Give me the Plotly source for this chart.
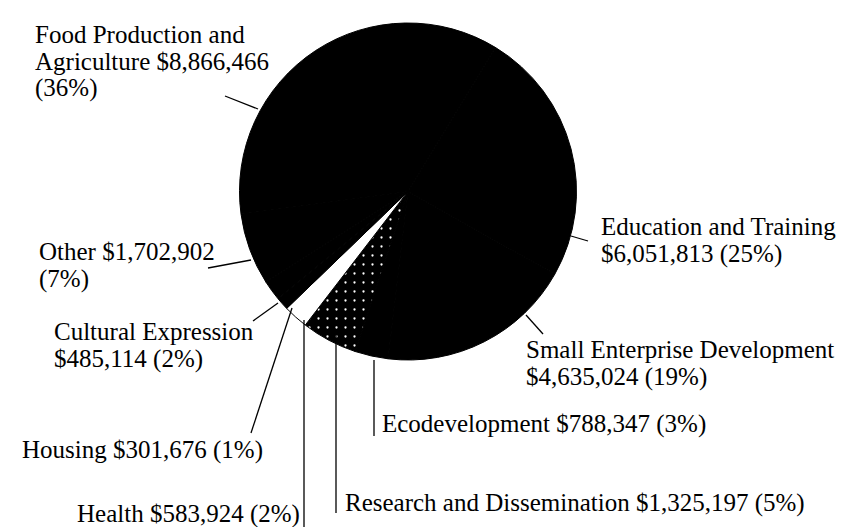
import textwrap
import plotly.graph_objects as go

# ---- data ----
categories = [
    "Education and Training",
    "Small Enterprise Development",
    "Ecodevelopment",
    "Research and Dissemination",
    "Health",
    "Housing",
    "Cultural Expression",
    "Other",
    "Food Production and Agriculture",
]
values = [6051813, 4635024, 788347, 1325197, 583924, 301676, 485114, 1702902, 8866466]
percents = [25, 19, 3, 5, 2, 1, 2, 7, 36]

# ---- styling ----
W, H = 845, 527
slice_colors = ["black", "black", "black", "black", "white", "black", "black", "black", "black"]
slice_patterns = ["", "", "", ".", "", "", "", "", ""]
FONT = "Liberation Serif, Times New Roman, serif"
FSIZE = 25
LINE_GAP = 27

# label layout: (wrap width in chars, left x px, first baseline px, leader line pts px)
label_layout = {
    "Education and Training": (22, 592, 227, [(563, 228), (580, 233)]),
    "Small Enterprise Development": (28, 517, 350, [(518, 307), (535, 326)]),
    "Ecodevelopment": (100, 373, 424, [(366, 352), (366, 428)]),
    "Research and Dissemination": (100, 336, 503, [(328, 326), (328, 505)]),
    "Health": (100, 68, 514, [(296, 312), (296, 527)]),
    "Housing": (100, 13, 450, [(284, 300), (243, 425)]),
    "Cultural Expression": (19, 45, 332, [(270, 295), (245, 313)]),
    "Other": (16, 30, 252, [(243, 252), (200, 260)]),
    "Food Production and Agriculture": (22, 26, 35, [(250, 101), (217, 88)]),
}

# pie placement (pixels)
CX, CY, R = 400, 183.5, 168.5


def px(x, y):
    return x / W, 1 - y / H


fig = go.Figure()
fig.add_trace(
    go.Pie(
        labels=categories,
        values=values,
        sort=False,
        direction="clockwise",
        rotation=31.3,
        textinfo="none",
        hoverinfo="label+value+percent",
        showlegend=False,
        marker=dict(
            colors=slice_colors,
            line=dict(color="black", width=1),
            pattern=dict(
                shape=slice_patterns,
                fgcolor="white",
                bgcolor="black",
                size=9,
                solidity=0.05,
            ),
        ),
        domain=dict(
            x=[(CX - R) / W, (CX + R) / W],
            y=[1 - (CY + R) / H, 1 - (CY - R) / H],
        ),
    )
)

annotations = []
shapes = []
for cat, val, pct in zip(categories, values, percents):
    wrap, lx, base, leader = label_layout[cat]
    full = f"{cat} ${val:,} ({pct}%)"
    lines = textwrap.wrap(full, wrap)
    for i, line in enumerate(lines):
        x, y = px(lx, base + i * LINE_GAP - 8.5)
        annotations.append(
            dict(
                text=line,
                x=x,
                y=y,
                xref="paper",
                yref="paper",
                xanchor="left",
                yanchor="middle",
                showarrow=False,
                font=dict(family=FONT, size=FSIZE, color="black"),
                borderpad=0,
            )
        )
    (x0, y0), (x1, y1) = leader
    a0, b0 = px(x0, y0)
    a1, b1 = px(x1, y1)
    shapes.append(
        dict(type="line", xref="paper", yref="paper", x0=a0, y0=b0, x1=a1, y1=b1,
             line=dict(color="black", width=1.3))
    )

fig.update_layout(
    width=W,
    height=H,
    margin=dict(l=0, r=0, t=0, b=0),
    paper_bgcolor="white",
    plot_bgcolor="white",
    annotations=annotations,
    shapes=shapes,
)

fig.write_html("out.html")
